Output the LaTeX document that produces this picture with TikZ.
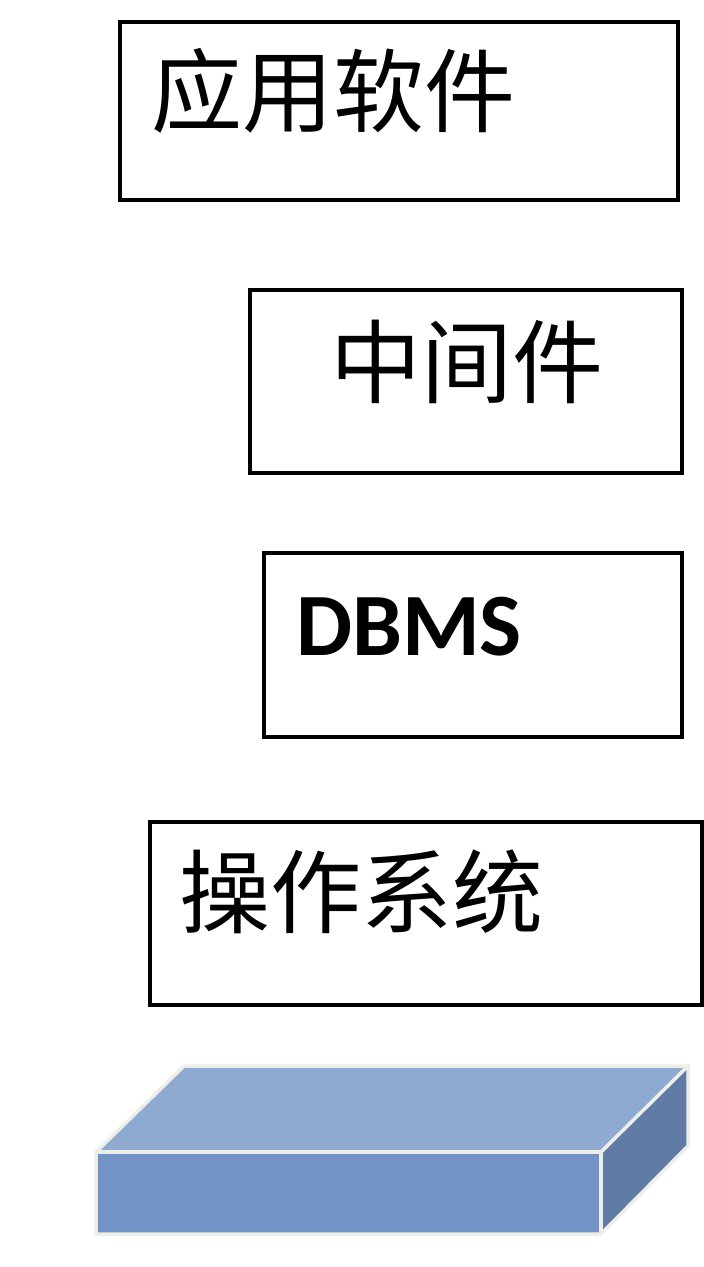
\documentclass[tikz,border=0pt]{standalone}
\usepackage{fontspec}
\newfontfamily\cjk{Noto Sans CJK SC}
\newfontfamily\carlitofont{Carlito}
\definecolor{frontc}{HTML}{7293C5}
\definecolor{topc}{HTML}{8FAAD1}
\definecolor{sidec}{HTML}{617BA7}
\definecolor{edgec}{HTML}{EEEEE8}
\begin{document}
\begin{tikzpicture}[x=1pt,y=-1pt,
  layerbox/.style={draw=black,line width=3.5pt},
  cjktext/.style={inner sep=0pt,anchor=west,font=\cjk\fontsize{91}{91}\selectfont},
  face/.style={draw=edgec,line width=3.5pt,line join=miter}]
\useasboundingbox (0,0) rectangle (704,1267);
% boxes
\draw[layerbox] (120,22) rectangle (678,200);
\node[cjktext] (app) at (151,91) {应用软件};
\draw[layerbox] (250,290) rectangle (682,473);
\node[cjktext] (mid) at (330,362) {中间件};
\draw[layerbox] (264,553) rectangle (682,737);
\node[inner sep=0pt,anchor=base west,font=\carlitofont\bfseries\fontsize{89}{89}\selectfont] (dbms) at (296,655) {DBMS};
\draw[layerbox] (150,822) rectangle (702,1005);
\node[cjktext] (os) at (179,892) {操作系统};
% hardware slab
\coordinate (fa) at (96,1152);
\coordinate (fb) at (601,1152);
\coordinate (fc) at (601,1234);
\coordinate (fd) at (96,1234);
\coordinate (ba) at (184,1066);
\coordinate (bb) at (688,1066);
\coordinate (bc) at (688,1146);
\fill[topc] (fa) -- (ba) -- (bb) -- (fb) -- cycle;
\fill[sidec] (fb) -- (bb) -- (bc) -- (fc) -- cycle;
\fill[frontc] (fa) -- (fb) -- (fc) -- (fd) -- cycle;
\draw[face] (fa) -- (ba) -- (bb) -- (bc) -- (fc) -- (fd) -- cycle;
\draw[face] (fa) -- (fb) -- (fc);
\draw[face] (fb) -- (bb);
\end{tikzpicture}
\end{document}
